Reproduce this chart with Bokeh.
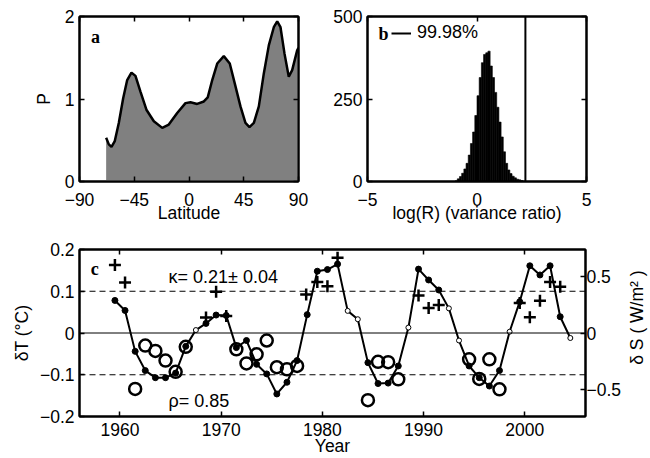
import math
from bokeh.plotting import figure
from bokeh.models import Range1d, LinearAxis, FixedTicker, Label, Span
from bokeh.layouts import column, row
from bokeh.embed import file_html
from bokeh.resources import INLINE

FONT = "Liberation Sans"
SERIF = "Liberation Serif"
FS = "17.5px"

# ---------------- panel a data ----------------
lat = [-68.1, -65.9, -63.7, -61.0, -57.7, -54.1, -50.8, -47.3, -44.0, -39.9,
       -35.0, -28.9, -22.0, -16.6, -9.7, -2.9, 1.2, 6.7, 12.2, 15.4,
       19.1, 23.2, 28.6, 33.5, 37.6, 42.3, 46.4, 49.7, 53.3, 57.4,
       61.5, 65.6, 69.7, 72.5, 75.2, 78.5, 82.0, 84.8, 88.9, 90.0]
P = [0.53, 0.45, 0.42, 0.49, 0.71, 1.01, 1.23, 1.32, 1.28, 1.09,
     0.87, 0.73, 0.65, 0.69, 0.83, 0.95, 0.96, 0.94, 0.97, 1.02,
     1.23, 1.43, 1.52, 1.43, 1.19, 0.91, 0.71, 0.66, 0.71, 0.91,
     1.31, 1.65, 1.87, 1.94, 1.87, 1.55, 1.27, 1.35, 1.59, 1.62]
lat_ticks = [-90, -45, 0, 45, 90]
lat_tick_labels = {-90: "\u221290", -45: "\u221245", 0: "0", 45: "45", 90: "90"}
P_ticks = [0, 1, 2]

# ---------------- panel b data ----------------
bin_left = [-1.0, -0.9, -0.8, -0.7, -0.6, -0.5, -0.4, -0.3, -0.2, -0.1,
            0.0, 0.1, 0.2, 0.3, 0.4, 0.5, 0.6, 0.7, 0.8, 0.9,
            1.0, 1.1, 1.2, 1.3, 1.4, 1.5, 1.6, 1.7, 1.8, 1.9, 2.0, 2.1]
bin_count = [2, 8, 15, 25, 38, 55, 80, 115, 150, 200,
             260, 315, 360, 385, 390, 395, 350, 315, 270, 225,
             180, 135, 90, 55, 35, 24, 16, 11, 7, 5, 3, 1]
bin_width = 0.1
threshold = 2.21
R_ticks = [-5, 0, 5]
R_tick_labels = {-5: "\u22125", 0: "0", 5: "5"}
count_ticks = [0, 250, 500]

# ---------------- panel c data ----------------
years = [1959.5, 1960.5, 1961.5, 1962.5, 1963.5, 1964.5, 1965.5, 1966.5, 1967.5, 1968.5,
         1969.5, 1970.5, 1971.5, 1972.5, 1973.5, 1974.5, 1975.5, 1976.5, 1977.5, 1978.5,
         1979.5, 1980.5, 1981.5, 1982.5, 1983.5, 1984.5, 1985.5, 1986.5, 1987.5, 1988.5,
         1989.5, 1990.5, 1991.5, 1992.5, 1993.5, 1994.5, 1995.5, 1996.5, 1997.5, 1998.5,
         1999.5, 2000.5, 2001.5, 2002.5, 2003.5, 2004.5]
dT = [0.078, 0.054, -0.044, -0.090, -0.107, -0.107, -0.096, -0.032, 0.007, 0.023,
      0.043, 0.042, -0.035, -0.018, -0.075, -0.098, -0.146, -0.118, -0.066, 0.044,
      0.148, 0.152, 0.165, 0.053, 0.033, -0.071, -0.121, -0.120, -0.079, 0.013,
      0.153, 0.127, 0.103, 0.059, -0.018, -0.079, -0.107, -0.127, -0.090, 0.003,
      0.075, 0.161, 0.139, 0.161, 0.039, -0.012]
is_open = [0, 0, 0, 0, 0, 0, 0, 0, 1, 0,
           0, 0, 0, 0, 0, 0, 0, 0, 0, 0,
           0, 0, 0, 1, 1, 0, 0, 0, 0, 1,
           0, 0, 0, 1, 1, 0, 0, 0, 0, 1,
           0, 0, 0, 0, 0, 1]

plus_years = [1959.5, 1960.5, 1968.5, 1969.5, 1970.5, 1978.4, 1979.5, 1980.5, 1981.5,
              1989.5, 1990.5, 1991.5, 1999.5, 2000.5, 2001.5, 2002.5, 2003.5]
plus_vals = [0.163, 0.121, 0.037, 0.099, 0.041, 0.092, 0.122, 0.112, 0.180,
             0.090, 0.060, 0.067, 0.072, 0.038, 0.077, 0.122, 0.111]

circ_years = [1961.5, 1962.5, 1963.5, 1964.5, 1965.5, 1966.5, 1971.5, 1972.5, 1973.5,
              1974.5, 1975.5, 1976.5, 1977.5, 1984.5, 1985.5, 1986.5, 1987.5, 1994.5,
              1995.5, 1996.5, 1997.5]
circ_vals = [-0.134, -0.030, -0.043, -0.066, -0.093, -0.033, -0.039, -0.073, -0.051,
             -0.018, -0.082, -0.087, -0.079, -0.161, -0.069, -0.070, -0.111, -0.063,
             -0.110, -0.063, -0.135]

year_ticks = [1960, 1970, 1980, 1990, 2000]
dT_ticks = [-0.2, -0.1, 0, 0.1, 0.2]
dT_tick_labels = {-0.2: "\u22120.2", -0.1: "\u22120.1", 0: "0", 0.1: "0.1", 0.2: "0.2"}
dS_ticks = [-0.5, 0, 0.5]
dS_tick_labels = {-0.5: "\u22120.5", 0: "0", 0.5: "0.5"}
ref_solid = [0.0]
ref_dashed = [0.1, -0.1]


def style_axis(ax, ticks=None, labels=True):
    ax.axis_line_width = 2
    ax.axis_line_color = "black"
    ax.major_tick_in = 5
    ax.major_tick_out = 0
    ax.minor_tick_in = 0
    ax.minor_tick_out = 0
    ax.major_tick_line_width = 1.5
    ax.major_tick_line_color = "black"
    ax.major_label_text_font = FONT
    ax.major_label_text_color = "black"
    if labels:
        ax.major_label_text_font_size = FS
        ax.major_label_standoff = 5
    else:
        ax.major_label_overrides = {t: "" for t in ticks}
        ax.major_label_text_font_size = "1px"
        ax.major_label_standoff = 0
    ax.axis_label_text_font = FONT
    ax.axis_label_text_font_size = FS
    ax.axis_label_text_font_style = "normal"
    ax.axis_label_text_color = "black"


def base(p):
    p.grid.visible = False
    p.outline_line_color = "black"
    p.outline_line_width = 2
    p.outline_line_alpha = 1
    p.background_fill_color = "white"
    p.border_fill_color = "white"


def txt(x, y, s, font=FONT, bold=False, size="18px", align=None, angle=0.0):
    return Label(x=x, y=y, text=s, text_font=font,
                 text_font_style="bold" if bold else "normal",
                 text_font_size=size, text_color="black", angle=angle,
                 text_align=align or ("center" if bold else "left"),
                 text_baseline="middle")


# ---------------- panel a ----------------
pa = figure(width=308, height=225, x_range=Range1d(-90, 90), y_range=Range1d(0, 2),
            output_backend="svg", toolbar_location=None,
            min_border_left=79, min_border_right=10, min_border_top=16, min_border_bottom=43)
base(pa)
pa.varea(x=lat, y1=0, y2=P, fill_color="#808080")
pa.line(lat, P, line_color="black", line_width=2.5)
pa.xaxis.ticker = FixedTicker(ticks=lat_ticks)
pa.xaxis.major_label_overrides = lat_tick_labels
pa.xaxis.axis_label = "Latitude"
pa.yaxis.ticker = FixedTicker(ticks=P_ticks)
pa.yaxis.axis_label = "P"
style_axis(pa.xaxis[0])
style_axis(pa.yaxis[0])
pa.xaxis.major_label_standoff = 11
pa.xaxis.axis_label_standoff = -6
pa.yaxis.axis_label_standoff = 8
ta = LinearAxis(ticker=FixedTicker(ticks=lat_ticks))
style_axis(ta, lat_ticks, labels=False)
pa.add_layout(ta, "above")
ra = LinearAxis(ticker=FixedTicker(ticks=P_ticks))
style_axis(ra, P_ticks, labels=False)
pa.add_layout(ra, "right")
pa.add_layout(txt(-76.8, 1.756, "a", font=SERIF, bold=True))

# ---------------- panel b ----------------
pb = figure(width=312, height=225, x_range=Range1d(-5, 5), y_range=Range1d(0, 500),
            output_backend="svg", toolbar_location=None,
            min_border_left=59, min_border_right=34, min_border_top=16, min_border_bottom=43)
base(pb)
pb.quad(left=bin_left, right=[b + bin_width for b in bin_left], top=bin_count, bottom=0,
        fill_color="black", line_color="black", line_width=0.6)
pb.line(x=[threshold, threshold], y=[0, 500], line_color="black", line_width=2,
        legend_label="99.98%")
pb.xaxis.ticker = FixedTicker(ticks=R_ticks)
pb.xaxis.major_label_overrides = R_tick_labels
pb.xaxis.axis_label = "log(R) (variance ratio)"
pb.yaxis.ticker = FixedTicker(ticks=count_ticks)
style_axis(pb.xaxis[0])
style_axis(pb.yaxis[0])
pb.xaxis.major_label_standoff = 11
pb.xaxis.axis_label_standoff = -6
tb = LinearAxis(ticker=FixedTicker(ticks=R_ticks))
style_axis(tb, R_ticks, labels=False)
pb.add_layout(tb, "above")
rb = LinearAxis(ticker=FixedTicker(ticks=count_ticks))
style_axis(rb, count_ticks, labels=False)
pb.add_layout(rb, "right")
lg = pb.legend[0]
lg.location = (24, 138)
lg.padding = 0
lg.margin = 0
lg.spacing = 0
lg.glyph_width = 20
lg.glyph_height = 20
lg.label_standoff = 6
lg.label_text_font = FONT
lg.label_text_font_size = "18px"
lg.label_text_color = "black"
lg.border_line_alpha = 0
lg.background_fill_alpha = 0
pb.add_layout(txt(-4.27, 446, "b", font=SERIF, bold=True))

# ---------------- panel c ----------------
pc = figure(width=624, height=233, x_range=Range1d(1956, 2006), y_range=Range1d(-0.2, 0.2),
            output_backend="svg", toolbar_location=None,
            min_border_left=79, min_border_right=38, min_border_top=24, min_border_bottom=42)
base(pc)
pc.extra_y_ranges = {"S": Range1d(-0.737, 0.737)}
for lv in ref_solid:
    pc.add_layout(Span(location=lv, dimension="width", line_color="black", line_width=1))
for lv in ref_dashed:
    pc.add_layout(Span(location=lv, dimension="width", line_color="black", line_width=1,
                       line_dash="6 4"))
pc.line(years, dT, line_color="black", line_width=2)
fy = [y for y, o in zip(years, is_open) if not o]
fv = [v for v, o in zip(dT, is_open) if not o]
oy = [y for y, o in zip(years, is_open) if o]
ov = [v for v, o in zip(dT, is_open) if o]
pc.scatter(fy, fv, marker="circle", size=6, fill_color="black", line_color="black")
pc.scatter(oy, ov, marker="circle", size=5, fill_color="white", line_color="black", line_width=1)
pc.scatter(plus_years, plus_vals, marker="cross", size=12, line_color="black", line_width=2.5)
pc.scatter(circ_years, circ_vals, marker="circle", size=12, fill_color=None,
           line_color="black", line_width=2.5)
pc.xaxis.ticker = FixedTicker(ticks=year_ticks)
pc.xaxis.axis_label = "Year"
pc.yaxis.ticker = FixedTicker(ticks=dT_ticks)
pc.yaxis.major_label_overrides = dT_tick_labels
pc.yaxis.axis_label = "\u03b4T (\u00b0C)"
style_axis(pc.xaxis[0])
style_axis(pc.yaxis[0])
pc.xaxis.major_label_standoff = 6
pc.xaxis.axis_label_standoff = -3
pc.yaxis.axis_label_standoff = 5
tc = LinearAxis(ticker=FixedTicker(ticks=year_ticks))
style_axis(tc, year_ticks, labels=False)
pc.add_layout(tc, "above")
rc = LinearAxis(y_range_name="S", ticker=FixedTicker(ticks=dS_ticks))
style_axis(rc)
rc.major_label_overrides = dS_tick_labels
rc.major_label_standoff = 1
pc.add_layout(rc, "right")
pc.add_layout(txt(1957.5, 0.153, "c", font=SERIF, bold=True))
pc.add_layout(txt(1964.8, 0.134, "\u03ba= 0.21\u00b1 0.04"))
pc.add_layout(txt(1964.8, -0.163, "\u03c1= 0.85"))

# narrow strip holding the right-hand axis title (reads bottom to top)
pd = figure(width=26, height=233, x_range=Range1d(0, 26), y_range=Range1d(0, 233),
            output_backend="svg", toolbar_location=None, x_axis_type=None, y_axis_type=None,
            min_border_left=0, min_border_right=0, min_border_top=0, min_border_bottom=0)
pd.grid.visible = False
pd.outline_line_color = None
pd.add_layout(Label(x=12, y=138, text="\u03b4 S ( W/m\u00b2 )", text_font=FONT,
                    text_font_size=FS, text_color="black", angle=math.pi / 2,
                    text_align="center", text_baseline="middle"))

layout = column(row(pa, pb, spacing=0), row(pc, pd, spacing=0), spacing=0)
open("out.html", "w").write(file_html(layout, INLINE))
